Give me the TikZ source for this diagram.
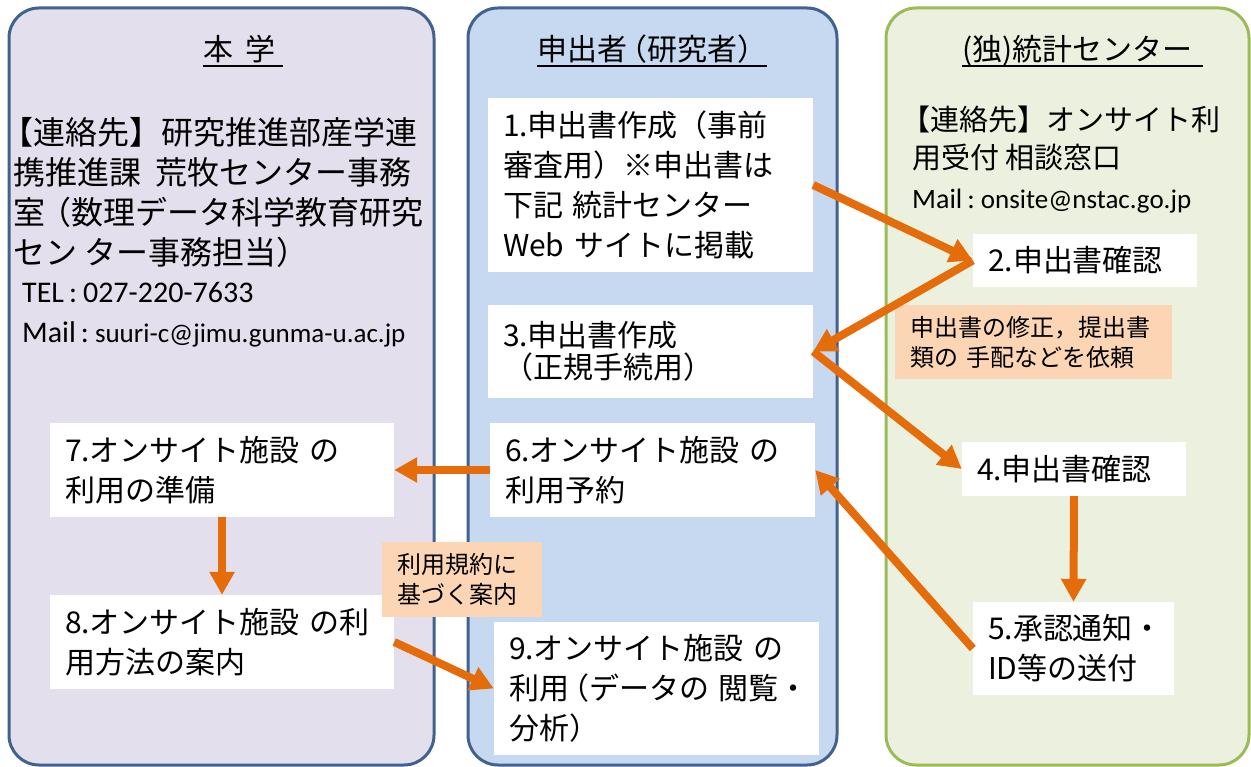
\documentclass[tikz,border=0pt]{standalone}
\usepackage{fontspec}
\setmainfont{Noto Sans CJK JP}
\newfontfamily\lat{Carlito}
\usetikzlibrary{arrows.meta}
\definecolor{lavfill}{HTML}{E4DFEC}
\definecolor{bluefill}{HTML}{C6D9F1}
\definecolor{greenfill}{HTML}{EBF1DE}
\definecolor{bluebd}{HTML}{41628F}
\definecolor{greenbd}{HTML}{9BBB59}
\definecolor{peach}{HTML}{FCD5B5}
\definecolor{arrc}{HTML}{E46C0A}
\begin{document}
\begin{tikzpicture}[x=1pt,y=-1pt,
  colbox/.style={rounded corners=30pt,line width=3pt},
  hdr/.style={inner sep=0pt,font=\fontsize{30}{36}\selectfont},
  uline/.style={line width=2pt},
  ctext/.style={inner sep=0pt,anchor=base west},
  wbox/.style={fill=white,inner xsep=15pt,inner ysep=0pt,align=left,font=\fontsize{30}{40}\selectfont},
  lab/.style={fill=peach,inner xsep=15pt,inner ysep=0pt,align=left,font=\fontsize{24}{30}\selectfont},
  arr/.style={draw=arrc,line width=8pt,-{Triangle[width=24pt,length=23pt]}}
]
\fill[white] (0,0) rectangle (1251,767);
\useasboundingbox (0,0) rectangle (1251,767);
% columns
\draw[colbox,draw=bluebd,fill=lavfill] (9,8) rectangle (434,765);
\draw[colbox,draw=bluebd,fill=bluefill] (468,8) rectangle (837,765);
\draw[colbox,draw=greenbd,fill=greenfill] (886,8) rectangle (1249,765);
% headers
\node[hdr,anchor=base west] (h1) at (203,61) {本\hspace{12pt}学};
\draw[uline] ([yshift=-5pt]h1.base west) -- ([yshift=-5pt,xshift=8pt]h1.base east);
\node[hdr,anchor=base west] (h2) at (537,61) {申出者\kern-10pt（研究者）};
\draw[uline] ([yshift=-5pt]h2.base west) -- ([yshift=-5pt]h2.base east);
\node[hdr,anchor=base west] (h3) at (962,61) {(独)統計センター};
\draw[uline] ([yshift=-5pt]h3.base west) -- ([yshift=-5pt,xshift=10pt]h3.base east);
% left contact
\node[ctext,font=\fontsize{32}{40}\selectfont] (l1) at (13,145) {\kern-12pt【連絡先】研究推進部産学連};
\node[ctext,font=\fontsize{32}{40}\selectfont] (l2) at (13,185) {携推進課\hspace{14pt}荒牧センター事務};
\node[ctext,font=\fontsize{32}{40}\selectfont] (l3) at (13,225) {室\kern-6pt（数理データ科学教育研究};
\node[ctext,font=\fontsize{32}{40}\selectfont] (l4) at (13,265) {セン ター事務担当）};
\node[ctext,font=\lat\fontsize{30}{36}\selectfont] (l5) at (22,302.5) {TEL\hspace{5pt}:\hspace{6pt}027-220-7633};
\node[ctext] (l6) at (22,343) {{\lat\fontsize{30}{36}\selectfont Mail\hspace{5pt}:\hspace{6pt}}{\lat\fontsize{27}{32}\selectfont suuri-c@jimu.gunma-u.ac.jp}};
% right contact
\node[ctext,font=\fontsize{29}{38}\selectfont] (r1) at (912,131) {\kern-11pt【連絡先】オンサイト利};
\node[ctext,font=\fontsize{29}{38}\selectfont] (r2) at (912,169) {用受付 相談窓口};
\node[ctext] (r3) at (912,209) {{\lat\fontsize{28}{34}\selectfont Mail\hspace{5pt}:\hspace{6pt}}{\lat\fontsize{27}{32}\selectfont onsite@nstac.go.jp}};
% steps
\node[wbox,text width=295pt,minimum height=174pt] (b1) at (650.5,185) {1.申出書作成（事前\\審査用）※申出書は\\下記~統計センター\\Web~サイトに掲載};
\node[wbox,text width=194pt,minimum height=53pt] (b2) at (1085,260.5) {2.申出書確認};
\node[wbox,text width=295pt,minimum height=93pt] (b3) at (650.5,351.5) {3.申出書作成\\\kern-8pt（正規手続用）};
\node[wbox,text width=194pt,minimum height=54pt] (b4) at (1074,469) {4.申出書確認};
\node[wbox,text width=171pt,minimum height=93pt] (b5) at (1073.5,648.5) {5.承認通知・\\ID等の送付};
\node[wbox,text width=295pt,minimum height=94pt] (b6) at (652.5,470) {6.オンサイト施設~の\\利用予約};
\node[wbox,text width=314pt,minimum height=94pt] (b7) at (222,470) {7.オンサイト施設~の\\利用の準備};
\node[wbox,text width=314pt,minimum height=94pt] (b8) at (222,642) {8.オンサイト施設~の利\\用方法の案内};
\node[wbox,text width=295pt,minimum height=133pt] (b9) at (656.5,688.5) {9.オンサイト施設~の\\利用\kern-10pt（データの~閲覧・\\分析）};
% labels
\node[lab,text width=247pt,minimum height=74pt] (n1) at (1033.5,342) {申出書の修正，提出書\\類の~手配などを依頼};
\node[lab,text width=130pt,minimum height=75pt] (n2) at (462,579.5) {利用規約に\\基づく案内};
% arrows
\draw[arr] (b1.east) -- (b2.west);
\draw[arr] (b2.west) -- (b3.east);
\draw[arr] (b3.east) -- (b4.west);
\draw[arr] (b4.south) -- (b5.north);
\draw[arr] (b5.west) -- (b6.east);
\draw[arr] (b6.west) -- (b7.east);
\draw[arr] (b7.south) -- (b8.north);
\draw[arr] (b8.east) -- (b9.west);
\end{tikzpicture}
\end{document}
